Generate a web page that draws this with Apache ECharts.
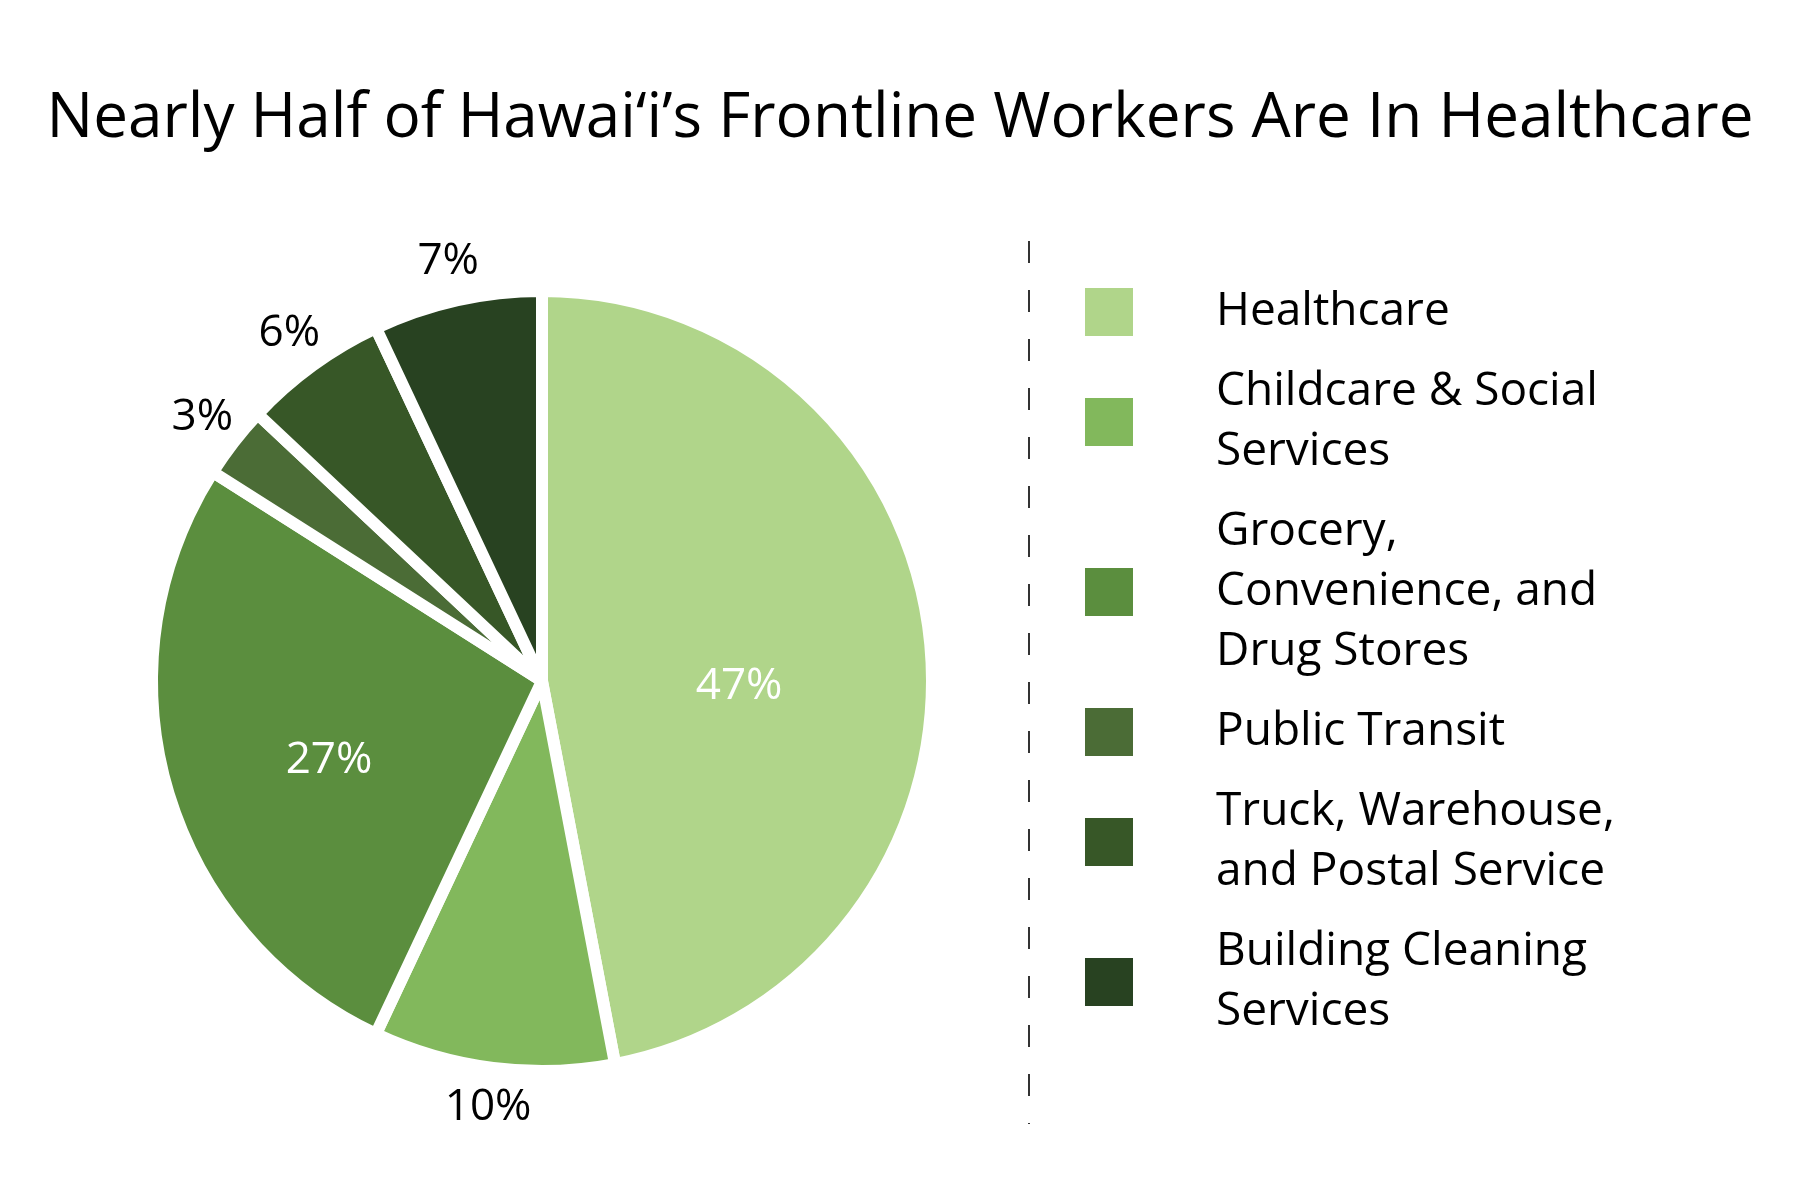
<!DOCTYPE html>
<html>
<head>
<meta charset="utf-8">
<title>Hawaii frontline workers</title>
<script src="https://cdn.jsdelivr.net/npm/echarts@6/dist/echarts.min.js"></script>
<style>
  html, body { margin: 0; padding: 0; background: #fff; }
  #main { width: 1800px; height: 1200px; }
</style>
</head>
<body>
<div id="main"></div>
<script>
var categories = [
  'Healthcare',
  'Childcare & Social\nServices',
  'Grocery,\nConvenience, and\nDrug Stores',
  'Public Transit',
  'Truck, Warehouse,\nand Postal Service',
  'Building Cleaning\nServices'
];
var shares = [47, 10, 27, 3, 6, 7];
var colors = ['#b0d58a', '#82b85c', '#5b8e3e', '#4b6c36', '#375727', '#284221'];
// which slices carry their label inside the wedge
var insideLabel = [true, false, true, false, false, false];

var font = '"Open Sans", "Noto Sans", sans-serif';
var myChart = echarts.init(document.getElementById('main'));

var mainData = categories.map(function (name, i) {
  return {
    name: name,
    value: shares[i],
    itemStyle: { color: colors[i] },
    label: { show: insideLabel[i] }
  };
});
// nudge the two inner labels down a bit (blank line above), 27% also leftwards
mainData[0].label.formatter = '\n{c}%';
mainData[2].label.formatter = '\n{c}%    ';

// transparent ring just outside the pie that holds the outer labels
var ringData = categories.map(function (name, i) {
  return {
    name: name,
    value: shares[i],
    label: { show: !insideLabel[i] }
  };
});

var option = {
  backgroundColor: '#fff',
  title: {
    text: 'Nearly Half of Hawai\u2018i\u2019s Frontline Workers Are In Healthcare',
    left: 'center',
    top: 83,
    textStyle: { fontFamily: font, fontSize: 62, fontWeight: 'normal', color: '#000' }
  },
  legend: {
    orient: 'vertical',
    left: 1078,
    top: 277,
    itemWidth: 50,
    itemHeight: 50,
    itemGap: 20,
    icon: 'rect',
    selectedMode: false,
    data: categories,
    textStyle: {
      fontFamily: font, fontSize: 46, color: '#000',
      lineHeight: 60, padding: [0, 0, 0, 77]
    }
  },
  graphic: [{
    type: 'line',
    shape: { x1: 1029, y1: 241, x2: 1029, y2: 1124 },
    style: { stroke: '#333', lineWidth: 2, lineDash: [22, 27] }
  }],
  series: [{
    type: 'pie',
    center: [542, 681],
    radius: [0, 390],
    startAngle: 90,
    clockwise: true,
    avoidLabelOverlap: false,
    silent: true,
    itemStyle: { borderColor: '#fff', borderWidth: 12 },
    label: {
      position: 'inside',
      formatter: '{c}%',
      fontFamily: font, fontSize: 44, lineHeight: 48, color: '#fff'
    },
    labelLine: { show: false },
    data: mainData
  }, {
    type: 'pie',
    center: [542, 681],
    radius: [390, 464],
    startAngle: 90,
    clockwise: true,
    avoidLabelOverlap: false,
    silent: true,
    itemStyle: { color: 'rgba(0,0,0,0)' },
    label: {
      position: 'inside',
      formatter: '{c}%',
      fontFamily: font, fontSize: 44, color: '#000'
    },
    labelLine: { show: false },
    data: ringData
  }]
};
myChart.setOption(option);
</script>
</body>
</html>
